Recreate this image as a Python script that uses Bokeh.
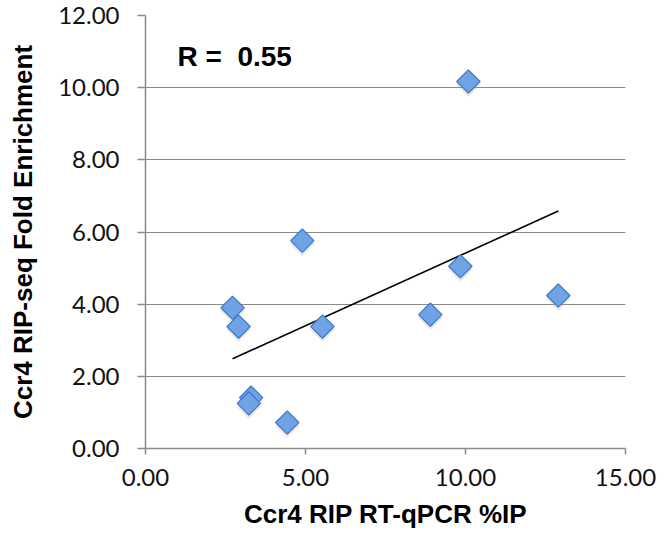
import numpy as np
from bokeh.plotting import figure
from bokeh.models import ColumnDataSource, FixedTicker, PrintfTickFormatter, Label, Range1d
from bokeh.transform import dodge
from bokeh.embed import file_html
from bokeh.resources import INLINE

# Data
rt_qpcr_ip = [10.09, 4.90, 2.72, 2.91, 5.53, 3.30, 3.23, 4.43, 8.90, 9.84, 12.90]
rip_seq_fe = [10.17, 5.76, 3.90, 3.38, 3.38, 1.41, 1.25, 0.72, 3.71, 5.05, 4.24]
x_ticks = [0, 5, 10, 15]
y_ticks = [0, 2, 4, 6, 8, 10, 12]
r_text = "R =\u00a0 0.55"
x_title = "Ccr4 RIP RT-qPCR %IP"
y_title = "Ccr4 RIP-seq Fold Enrichment"

src = ColumnDataSource(data=dict(x=rt_qpcr_ip, y=rip_seq_fe))

# linear trendline from data
slope, intercept = np.polyfit(rt_qpcr_ip, rip_seq_fe, 1)
tx = [min(rt_qpcr_ip), max(rt_qpcr_ip)]
ty = [slope * v + intercept for v in tx]

p = figure(width=667, height=541, output_backend="svg", toolbar_location=None,
           x_range=Range1d(0, 15), y_range=Range1d(0, 12),
           min_border_left=145, min_border_right=42, min_border_top=15, min_border_bottom=93)
p.outline_line_color = None
p.background_fill_color = "white"
p.border_fill_color = "white"

grey = "#8a8a8a"
tick_font = "Lato"
title_font = "Liberation Sans"

p.xgrid.visible = False
p.ygrid.grid_line_color = grey
p.ygrid.grid_line_width = 1.2

p.xaxis.ticker = FixedTicker(ticks=x_ticks)
p.yaxis.ticker = FixedTicker(ticks=y_ticks)
p.xaxis.formatter = PrintfTickFormatter(format="%.2f")
p.yaxis.formatter = PrintfTickFormatter(format="%.2f")

for ax in (p.xaxis, p.yaxis):
    ax.axis_line_color = grey
    ax.axis_line_width = 1.5
    ax.major_tick_line_color = grey
    ax.major_tick_line_width = 1.5
    ax.major_tick_in = 0
    ax.minor_tick_line_color = None
    ax.major_label_text_font = tick_font
    ax.major_label_text_font_size = "24px"
    ax.major_label_text_color = "#111111"
    ax.axis_label_text_font = title_font
    ax.axis_label_text_font_style = "bold"
    ax.axis_label_text_font_size = "26px"
    ax.axis_label_text_color = "black"

p.xaxis.major_tick_out = 6
p.yaxis.major_tick_out = 8
p.xaxis.major_label_standoff = 14
p.yaxis.major_label_standoff = 18
p.xaxis.axis_label = x_title
p.yaxis.axis_label = y_title
p.xaxis.axis_label_standoff = 10
p.yaxis.axis_label_standoff = 17

# trendline
p.line(tx, ty, line_color="black", line_width=1.6)

# shadow
p.scatter(x="x", y=dodge("y", -0.09, range=p.y_range), source=src, marker="square",
          size=17, angle=np.pi / 4, fill_color="#9a9a9a", fill_alpha=0.25,
          line_color=None)
# diamonds
p.scatter(x="x", y="y", source=src, marker="square", size=16.5, angle=np.pi / 4,
          fill_color="#6fa3e6", line_color="#4177c2", line_width=1.2)

p.add_layout(Label(x=1.0, y=10.86, text=r_text, text_font=title_font,
                   text_font_style="bold", text_font_size="28px",
                   text_color="black", text_baseline="alphabetic"))

open("out.html", "w").write(file_html(p, INLINE))
